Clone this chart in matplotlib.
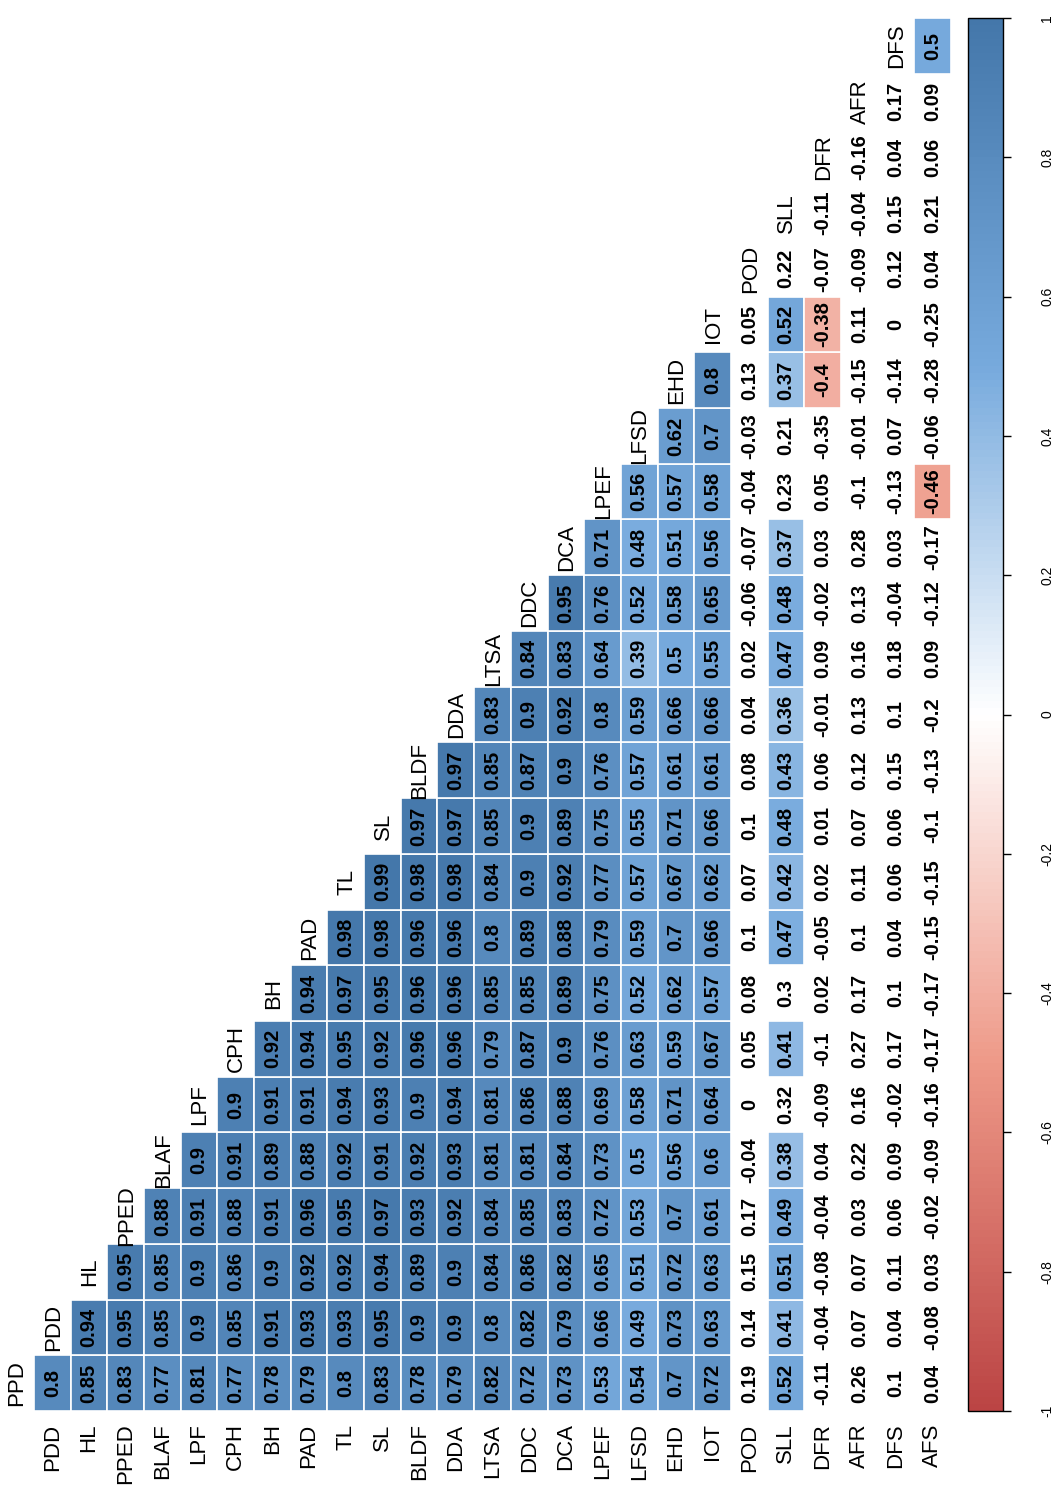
import numpy as np
import matplotlib
matplotlib.use("Agg")
import matplotlib.pyplot as plt
from matplotlib.colors import LinearSegmentedColormap, Normalize
from matplotlib.cm import ScalarMappable
from matplotlib.patches import Rectangle

plt.rcParams['font.family'] = ['Liberation Sans', 'DejaVu Sans']

# ---------------- data ----------------
row_labels = ["PDD", "HL", "PPED", "BLAF", "LPF", "CPH", "BH", "PAD", "TL", "SL",
              "BLDF", "DDA", "LTSA", "DDC", "DCA", "LPEF", "LFSD", "EHD", "IOT",
              "POD", "SLL", "DFR", "AFR", "DFS", "AFS"]
col_labels = ["PPD", "PDD", "HL", "PPED", "BLAF", "LPF", "CPH", "BH", "PAD", "TL",
              "SL", "BLDF", "DDA", "LTSA", "DDC", "DCA", "LPEF", "LFSD", "EHD",
              "IOT", "POD", "SLL", "DFR", "AFR", "DFS"]

r_PDD = [0.8]
r_HL = [0.85, 0.94]
r_PPED = [0.83, 0.95, 0.95]
r_BLAF = [0.77, 0.85, 0.85, 0.88]
r_LPF = [0.81, 0.9, 0.9, 0.91, 0.9]
r_CPH = [0.77, 0.85, 0.86, 0.88, 0.91, 0.9]
r_BH = [0.78, 0.91, 0.9, 0.91, 0.89, 0.91, 0.92]
r_PAD = [0.79, 0.93, 0.92, 0.96, 0.88, 0.91, 0.94, 0.94]
r_TL = [0.8, 0.93, 0.92, 0.95, 0.92, 0.94, 0.95, 0.97, 0.98]
r_SL = [0.83, 0.95, 0.94, 0.97, 0.91, 0.93, 0.92, 0.95, 0.98, 0.99]
r_BLDF = [0.78, 0.9, 0.89, 0.93, 0.92, 0.9, 0.96, 0.96, 0.96, 0.98, 0.97]
r_DDA = [0.79, 0.9, 0.9, 0.92, 0.93, 0.94, 0.96, 0.96, 0.96, 0.98, 0.97, 0.97]
r_LTSA = [0.82, 0.8, 0.84, 0.84, 0.81, 0.81, 0.79, 0.85, 0.8, 0.84, 0.85, 0.85, 0.83]
r_DDC = [0.72, 0.82, 0.86, 0.85, 0.81, 0.86, 0.87, 0.85, 0.89, 0.9, 0.9, 0.87, 0.9, 0.84]
r_DCA = [0.73, 0.79, 0.82, 0.83, 0.84, 0.88, 0.9, 0.89, 0.88, 0.92, 0.89, 0.9, 0.92,
         0.83, 0.95]
r_LPEF = [0.53, 0.66, 0.65, 0.72, 0.73, 0.69, 0.76, 0.75, 0.79, 0.77, 0.75, 0.76, 0.8,
          0.64, 0.76, 0.71]
r_LFSD = [0.54, 0.49, 0.51, 0.53, 0.5, 0.58, 0.63, 0.52, 0.59, 0.57, 0.55, 0.57, 0.59,
          0.39, 0.52, 0.48, 0.56]
r_EHD = [0.7, 0.73, 0.72, 0.7, 0.56, 0.71, 0.59, 0.62, 0.7, 0.67, 0.71, 0.61, 0.66,
         0.5, 0.58, 0.51, 0.57, 0.62]
r_IOT = [0.72, 0.63, 0.63, 0.61, 0.6, 0.64, 0.67, 0.57, 0.66, 0.62, 0.66, 0.61, 0.66,
         0.55, 0.65, 0.56, 0.58, 0.7, 0.8]
r_POD = [0.19, 0.14, 0.15, 0.17, -0.04, 0, 0.05, 0.08, 0.1, 0.07, 0.1, 0.08, 0.04,
         0.02, -0.06, -0.07, -0.04, -0.03, 0.13, 0.05]
r_SLL = [0.52, 0.41, 0.51, 0.49, 0.38, 0.32, 0.41, 0.3, 0.47, 0.42, 0.48, 0.43, 0.36,
         0.47, 0.48, 0.37, 0.23, 0.21, 0.37, 0.52, 0.22]
r_DFR = [-0.11, -0.04, -0.08, -0.04, 0.04, -0.09, -0.1, 0.02, -0.05, 0.02, 0.01, 0.06,
         -0.01, 0.09, -0.02, 0.03, 0.05, -0.35, -0.4, -0.38, -0.07, -0.11]
r_AFR = [0.26, 0.07, 0.07, 0.03, 0.22, 0.16, 0.27, 0.17, 0.1, 0.11, 0.07, 0.12, 0.13,
         0.16, 0.13, 0.28, -0.1, -0.01, -0.15, 0.11, -0.09, -0.04, -0.16]
r_DFS = [0.1, 0.04, 0.11, 0.06, 0.09, -0.02, 0.17, 0.1, 0.04, 0.06, 0.06, 0.15, 0.1,
         0.18, -0.04, 0.03, -0.13, 0.07, -0.14, 0, 0.12, 0.15, 0.04, 0.17]
r_AFS = [0.04, -0.08, 0.03, -0.02, -0.09, -0.16, -0.17, -0.17, -0.15, -0.15, -0.1,
         -0.13, -0.2, 0.09, -0.12, -0.17, -0.46, -0.06, -0.28, -0.25, 0.04, 0.21,
         0.06, 0.09, 0.5]

rows = [r_PDD, r_HL, r_PPED, r_BLAF, r_LPF, r_CPH, r_BH, r_PAD, r_TL, r_SL, r_BLDF,
        r_DDA, r_LTSA, r_DDC, r_DCA, r_LPEF, r_LFSD, r_EHD, r_IOT, r_POD, r_SLL,
        r_DFR, r_AFR, r_DFS, r_AFS]

# |r| below this is not significant -> blank cell (coefficient still printed)
sig_min_abs_r = 0.355

cbar_ticks = [-1, -0.8, -0.6, -0.4, -0.2, 0, 0.2, 0.4, 0.6, 0.8, 1]
cbar_ticklabels = ["-1", "-0.8", "-0.6", "-0.4", "-0.2", "0", "0.2", "0.4", "0.6", "0.8", "1"]

# ---------------- style ----------------
cmap = LinearSegmentedColormap.from_list(
    "corr", ["#BB4444", "#EE9988", "#FFFFFF", "#77AADD", "#4477AA"], N=200)
norm = Normalize(-1, 1)

W, H = 1056, 1488
fig = plt.figure(figsize=(W / 100, H / 100), dpi=100)

gx0, gx1 = 34, 951
gy0, gy1 = 18, 1411
ax = fig.add_axes([gx0 / W, 1 - gy1 / H, (gx1 - gx0) / W, (gy1 - gy0) / H])
n_rows = len(row_labels)
n_cols = len(col_labels)
ax.set_xlim(-0.5, n_rows - 0.5)
ax.set_ylim(-0.5, n_cols - 0.5)
ax.axis("off")


def fmt(v):
    s = f"{v:g}"
    return "0" if s == "-0" else s


for i, vals in enumerate(rows):
    for j, v in enumerate(vals):
        if abs(v) >= sig_min_abs_r:
            ax.add_patch(Rectangle((i - 0.5, j - 0.5), 1, 1,
                                   facecolor=cmap(norm(v)), edgecolor="white",
                                   linewidth=1.2))
        ax.text(i, j, fmt(v), rotation=90, ha="center", va="center",
                fontsize=14.5, fontweight="bold", color="black")

# row labels (bottom)
for i, lab in enumerate(row_labels):
    ax.annotate(lab, xy=(i, -0.5), xytext=(0, -9), textcoords="offset points",
                rotation=90, ha="center", va="top", fontsize=16,
                color="black", annotation_clip=False)

# column labels (along diagonal)
for j, lab in enumerate(col_labels):
    ax.annotate(lab, xy=(j - 0.5, j), xytext=(-5, 0), textcoords="offset points",
                rotation=90, ha="right", va="center", fontsize=16,
                color="black", annotation_clip=False)

# colour bar
cx0, cx1 = 968, 1003
cax = fig.add_axes([cx0 / W, 1 - gy1 / H, (cx1 - cx0) / W, (gy1 - gy0) / H])
sm = ScalarMappable(norm=norm, cmap=cmap)
cb = fig.colorbar(sm, cax=cax, ticks=cbar_ticks)
cb.set_ticklabels(cbar_ticklabels)
cb.outline.set_linewidth(1.0)
cb.outline.set_edgecolor("black")
cax.tick_params(length=6, width=1, pad=21, labelsize=10)
for t in cax.get_yticklabels():
    t.set_rotation(90)
    t.set_va("center")
    t.set_ha("left")

fig.savefig("out.png", dpi=100, facecolor="white")
